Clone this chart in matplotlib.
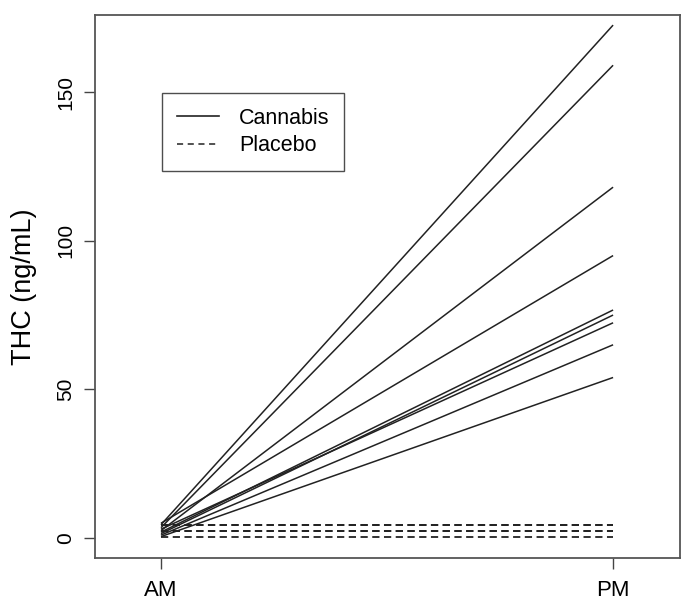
import matplotlib
matplotlib.use("Agg")
import matplotlib.pyplot as plt
from matplotlib.lines import Line2D

plt.rcParams['font.family'] = ['Liberation Sans', 'DejaVu Sans']

times = ["AM", "PM"]
cannabis_am = [4.5, 3.5, 2.5, 5.0, 2.0, 1.5, 3.0, 1.0, 0.5]
cannabis_pm = [172.5, 159.0, 118.0, 95.0, 76.7, 75.0, 72.4, 65.0, 54.0]
placebo_am = [4.5, 2.5, 0.5, 4.5, 2.5]
placebo_pm = [4.5, 2.5, 0.5, 4.5, 2.5]
yticks = [0, 50, 100, 150]

W, H = 695, 609
fig = plt.figure(figsize=(W / 100, H / 100), dpi=100)
ax = fig.add_axes([95 / W, 1 - 558 / H, (680 - 95) / W, (558 - 15) / H])

x = [0, 1]
for a, p in zip(cannabis_am, cannabis_pm):
    ax.plot(x, [a, p], color='#222222', lw=1.1, solid_capstyle='butt')
for a, p in zip(placebo_am, placebo_pm):
    ax.plot(x, [a, p], color='#222222', lw=1.3, dashes=(4, 2.5))

ax.set_xlim(-0.146, 1.148)
ax.set_ylim(-6.7, 175.9)
ax.set_xticks(x)
ax.set_xticklabels(times, fontsize=16)
ax.set_yticks(yticks)
ax.set_yticklabels([str(t) for t in yticks], fontsize=15, rotation=90, va='center')
ax.tick_params(length=8, width=1.0, color='#444444', pad=6)
ax.tick_params(axis='x', pad=8)
for s in ax.spines.values():
    s.set_color('#555555')
    s.set_linewidth(1.3)
ax.set_ylabel("THC (ng/mL)", fontsize=19.5, labelpad=14)

handles = [Line2D([], [], color='#222222', lw=1.2),
           Line2D([], [], color='#222222', lw=1.1, dashes=(4, 3))]
leg = ax.legend(handles, ["Cannabis", "Placebo"], loc='upper left',
                bbox_to_anchor=((162 - 95) / 585, (558 - 93) / 543),
                fontsize=15.5, frameon=True, fancybox=False, edgecolor='#222222',
                handlelength=1.95, handletextpad=0.95, borderpad=0.68,
                labelspacing=0.3, borderaxespad=0)
leg.get_frame().set_linewidth(1.0)

fig.savefig("out.png", dpi=100)
